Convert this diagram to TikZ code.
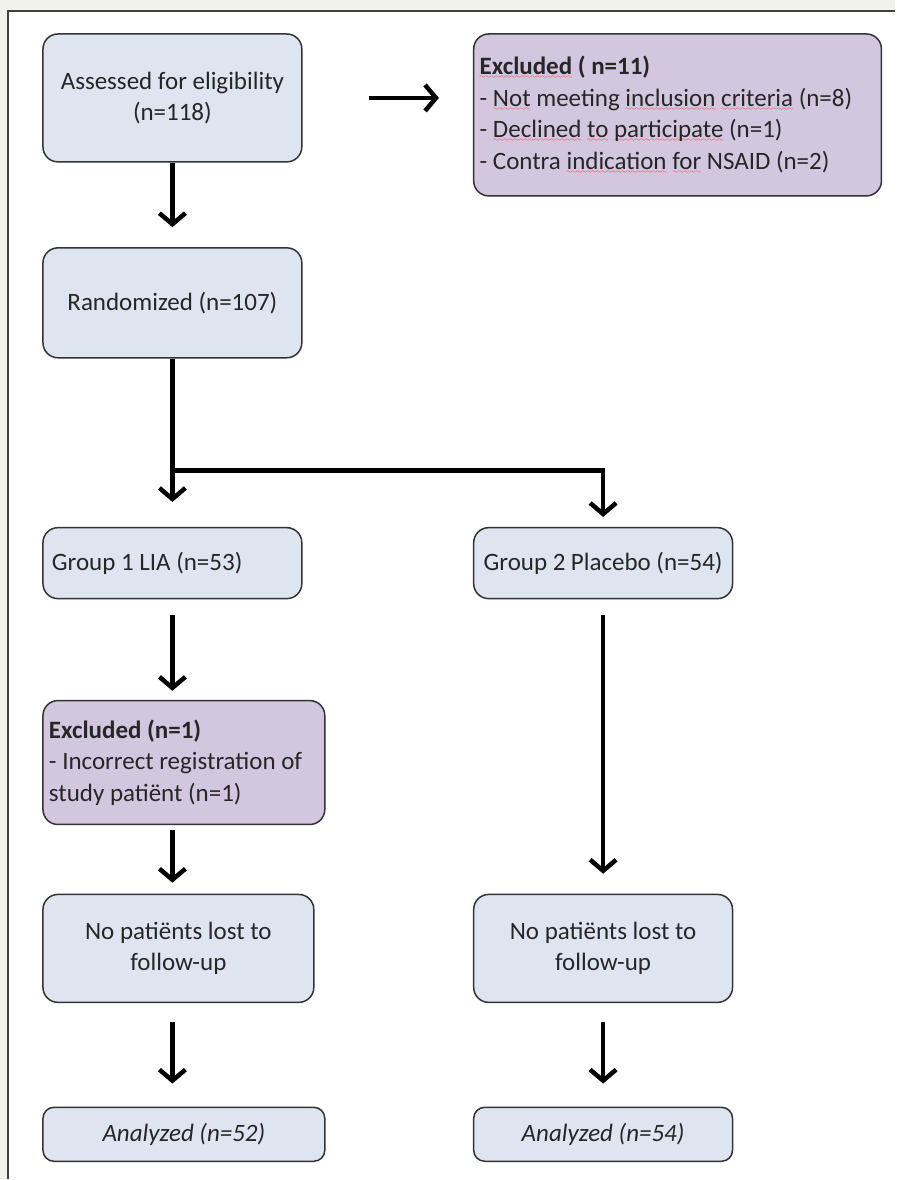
\documentclass[tikz,border=0pt]{standalone}
\usepackage{fontspec}
\setmainfont{Carlito}
\usetikzlibrary{arrows.meta,calc}
\definecolor{boxblue}{HTML}{DEE5F0}
\definecolor{boxlilac}{HTML}{D3C7DF}
\definecolor{pagegrey}{HTML}{F2F2EC}
\font\wavefont=lasy6
\newcommand\spellwave[1]{\setbox0\hbox{#1}\rlap{\color{red}\lower4pt\hbox to\wd0{\xleaders\hbox{\wavefont\char58}\hfill}}\box0\relax}

\begin{document}
\begin{tikzpicture}[x=1pt,y=-1pt,
  box/.style={draw=black!80,line width=1.5pt,rounded corners=15pt,fill=boxblue,text=black!85,
    font=\fontsize{25}{31.5}\selectfont,inner sep=6pt,align=center},
  exbox/.style={box,fill=boxlilac,align=flush left},
  arr/.style={line width=4.5pt,-{Straight Barb[length=11pt,width=26pt]}}]
% page and frame
\fill[pagegrey] (0,0) rectangle (896,1180);
\fill[white] (8,11) rectangle (896,1180);
\draw[black!75,line width=1.5pt] (896,11) -- (8,11) -- (8,1180);
\useasboundingbox (0,0) rectangle (896,1180);

\node[box,minimum width=259pt,minimum height=128pt] (assess) at (172.5,98) {Assessed for eligibility\\(n=118)};
\node[exbox,text width=396pt,minimum height=162pt] (exclA) at (678,115)
  {\spellwave{\textbf{Excluded}} \textbf{( n=11)}\\
   - \spellwave{Not} meeting \spellwave{inclusion} \spellwave{criteria} (n=8)\\
   - \spellwave{Declined} \spellwave{to} \spellwave{participate} (n=1)\\
   - Contra \spellwave{indication} \spellwave{for} NSAID (n=2)};
\node[box,minimum width=259pt,minimum height=110pt] (rand) at (172.5,303) {Randomized (n=107)};
\node[box,align=flush left,inner xsep=9pt,text width=241pt,minimum height=71pt] (g1) at (172.5,563.5) {Group 1 LIA (n=53)};
\node[box,align=flush left,inner xsep=10pt,text width=239pt,minimum height=71pt] (g2) at (603.5,563.5) {Group 2 Placebo (n=54)};
\node[exbox,text width=270pt,minimum height=124pt] (excl1) at (184,763)
  {\textbf{Excluded (n=1)}\\- Incorrect registration of\\study patiënt (n=1)};
\node[box,minimum width=271pt,minimum height=108pt] (lost1) at (178.5,949) {No patiënts lost to\\follow-up};
\node[box,minimum width=259pt,minimum height=108pt] (lost2) at (603.5,949) {No patiënts lost to\\follow-up};
\node[box,rounded corners=11pt,minimum width=282pt,minimum height=54pt,font=\fontsize{25}{31.5}\selectfont\itshape] (ana1) at (184,1135) {Analyzed (n=52)};
\node[box,rounded corners=11pt,minimum width=259pt,minimum height=54pt,font=\fontsize{25}{31.5}\selectfont\itshape] (ana2) at (603.5,1135) {Analyzed (n=54)};

% arrows
\draw[arr,shorten <=66pt,shorten >=34pt] (assess.east) -- (assess.east -| exclA.west);
\draw[arr,shorten >=20pt] (assess) -- (rand);
\coordinate (split) at (172.5,471);
\draw[arr,shorten >=25pt] (rand) -- (g1);
\draw[arr,shorten >=10pt] (split) -| (g2.north);
\draw[arr,shorten <=16pt,shorten >=9pt] (g1) -- (g1.south |- excl1.north);
\draw[arr,shorten <=5pt,shorten >=11pt] (g1.south |- excl1.south) -- (g1.south |- lost1.north);
\draw[arr,shorten <=19pt,shorten >=23pt] (g1.south |- lost1.south) -- (g1.south |- ana1.north);
\draw[arr,shorten <=16pt,shorten >=20pt] (g2) -- (lost2);
\draw[arr,shorten <=19pt,shorten >=23pt] (lost2) -- (ana2);
\end{tikzpicture}
\end{document}
